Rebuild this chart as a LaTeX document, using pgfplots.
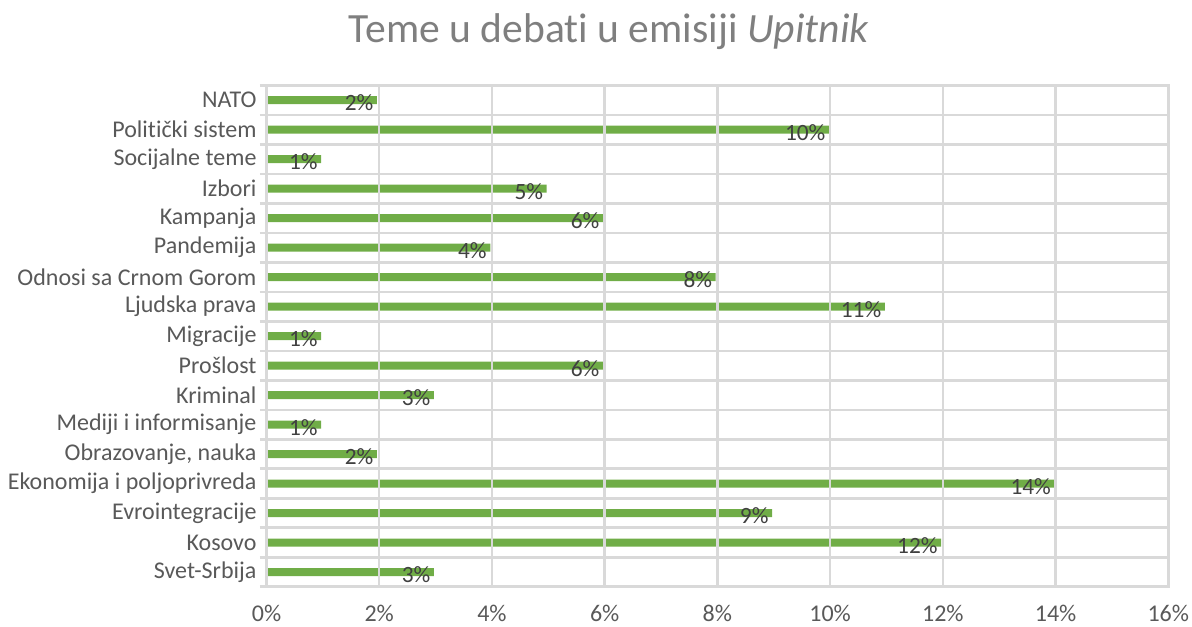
\documentclass[border=0pt]{standalone}
\usepackage{pgfplots}
\pgfplotsset{compat=1.18}
\usepackage{pgfplotstable}
\usepackage{fontspec}
\setmainfont{Carlito}[Ligatures=NoCommon]
\definecolor{bargreen}{HTML}{70AD47}
\definecolor{gridgray}{HTML}{D9D9D9}
\definecolor{ticktext}{HTML}{595959}
\definecolor{labeltext}{HTML}{404040}
\definecolor{titlegray}{HTML}{7F7F7F}
\pgfplotstableread{
y x
0 1.96
1 9.98
2 0.97
3 4.97
4 5.97
5 3.97
6 7.97
7 10.97
8 0.97
9 5.97
10 2.97
11 0.97
12 1.96
13 13.98
14 8.97
15 11.97
16 2.97
}\datatable
\begin{document}
\begin{tikzpicture}
\path[use as bounding box] (0,0) rectangle (894pt,469.5pt);
\node[anchor=base, text=titlegray, font=\fontsize{31.2}{35}\selectfont, inner sep=0pt] at (456.75pt,437.25pt) {Teme u debati u emisiji \textit{Upitnik}};
\begin{axis}[
  at={(199.875pt,29.44pt)}, anchor=south west,
  scale only axis, width=676.35pt, height=376.1pt,
  xbar, bar width=6pt, bar shift=0pt,
  xmin=0, xmax=16, ymin=-0.5, ymax=16.5,
  y dir=reverse,
  xtick={0,2,...,16},
  xticklabel={\pgfmathprintnumber{\tick}\%},
  ytick={0,...,16},
  yticklabels={NATO,Politički sistem,Socijalne teme,Izbori,Kampanja,Pandemija,Odnosi sa Crnom Gorom,Ljudska prava,Migracije,Prošlost,Kriminal,Mediji i informisanje,{Obrazovanje, nauka},Ekonomija i poljoprivreda,Evrointegracije,Kosovo,Svet-Srbija},
  minor ytick={-0.5,0.5,...,16.5},
  xmajorgrids, yminorgrids, ymajorgrids=false,
  grid style={gridgray, line width=1.9pt},
  minor grid style={gridgray, line width=1.9pt},
  axis line style={gridgray, line width=1.9pt},
  tick align=outside,
  ytick pos=left,
  major tick length=0pt, minor tick length=5pt,
  minor tick style={gridgray, line width=1.9pt},
  xtick style={draw=none}, 
  axis on top,
  /pgf/number format/assume math mode=true,
  ticklabel style={text=ticktext, font=\fontsize{18}{21}\selectfont},
  yticklabel style={xshift=-4pt},
  xticklabel style={yshift=-10pt},
  nodes near coords={\pgfmathprintnumber[fixed,precision=0]{\pgfplotspointmeta}\%},
  point meta=x,
  every node near coord/.append style={anchor=east, inner sep=0pt, xshift=-2.5pt, yshift=-2pt, text=labeltext, font=\fontsize{17.5}{20}\selectfont},
]
\addplot[fill=bargreen, draw=none] table[x=x, y=y] {\datatable};
\end{axis}
\end{tikzpicture}
\end{document}
